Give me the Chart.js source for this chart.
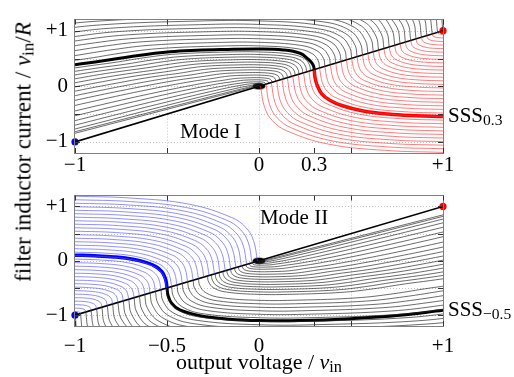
<!DOCTYPE html>
<html><head><meta charset="utf-8">
<script src="https://cdn.jsdelivr.net/npm/chart.js@4.4.1/dist/chart.umd.min.js"></script>
<style>
html,body{margin:0;padding:0;background:#fff;width:514px;height:377px;overflow:hidden;}
#wrap{position:relative;width:514px;height:377px;font-family:"Liberation Serif","Times New Roman",serif;color:#000;}
canvas{position:absolute;left:0;}
.lbl{position:absolute;white-space:nowrap;line-height:1;}
.sub{font-size:0.74em;position:relative;top:0.2em;}
</style></head><body>
<div id="wrap">
<canvas id="cTop" width="514" height="176" style="top:0px"></canvas>
<canvas id="cBot" width="514" height="201" style="top:176px"></canvas>
<div class="lbl" id="yTitle" style="font-size:23px">filter inductor current / <i>v</i><span class="sub">in</span>/<i>R</i></div>
<div class="lbl" id="xTitle" style="font-size:22px">output voltage / <i>v</i><span class="sub">in</span></div>
<div class="lbl" id="modeI" style="font-size:21px">Mode I</div>
<div class="lbl" id="modeII" style="font-size:21px">Mode II</div>
<div class="lbl" id="sssTop" style="font-size:21px">SSS<span class="sub">0.3</span></div>
<div class="lbl" id="sssBot" style="font-size:21px">SSS<span class="sub">−0.5</span></div>
</div>
<script>
// ---------- tick values / labels ----------
const yTickValues = [-1, 0, 1];
const yTickLabels = ['−1', '0', '+1'];
const topXTickValues = [-1, 0, 0.3, 1];
const topXTickLabels = ['−1', '0', '0.3', '+1'];
const botXTickValues = [-1, -0.5, 0, 1];
const botXTickLabels = ['−1', '−0.5', '0', '+1'];
const gridXValues = [-0.5, 0, 0.5];
const gridYValues = [-1, -0.5, 0, 0.5, 1];

// ---------- switching line and equilibrium points ----------
const switchLine = [[-1,-1],[0,0],[1,1]];
const eqRed = [1, 1];
const eqBlue = [-1, -1];
const eqBlack = [0, 0];

// ---------- steady-state (thick) trajectories ----------
const sssTopBlack = [[.300,.300],[.297,.360],[.285,.430],[.268,.486],[.223,.595],[.132,.655],[0,.672],[-.194,.662],[-.339,.648],[-.484,.621],[-.665,.551],[-.846,.459],[-1,.389]];
const sssTopRed = [[.300,.300],[.305,.150],[.315,.030],[.340,-.130],[.385,-.250],[.450,-.345],[.560,-.440],[.700,-.500],[.850,-.530],[1,-.545]];
const sssBotBlue = [[-.5,-.5],[-.504,-.393],[-.511,-.307],[-.529,-.193],[-.561,-.107],[-.607,-.039],[-.686,.029],[-.786,.071],[-.893,.093],[-1,.104]];
const sssBotBlack = [[-.5,-.5],[-.494,-.64],[-.475,-.78],[-.43,-.905],[-.32,-1.01],[-.16,-1.075],[0,-1.1],[.22,-1.1],[.495,-1.065],[.766,-1.003],[1,-.91]];

// ---------- thin trajectories, top panel (Mode I) ----------
const redThin = [
[[.971,.971],[.971,.960],[.973,.953],[.975,.947],[.982,.940],[.991,.937],[1,.936]],
[[.942,.942],[.943,.919],[.945,.905],[.950,.894],[.963,.880],[.982,.873],[1,.871]],
[[.913,.913],[.914,.879],[.918,.858],[.925,.841],[.945,.820],[.973,.810],[1,.807]],
[[.883,.883],[.886,.838],[.891,.810],[.900,.788],[.927,.760],[.963,.747],[1,.743]],
[[.854,.854],[.857,.798],[.864,.763],[.875,.735],[.908,.700],[.954,.683],[1,.678]],
[[.825,.825],[.829,.758],[.836,.715],[.850,.683],[.890,.640],[.945,.620],[1,.614]],
[[.796,.796],[.800,.717],[.809,.668],[.825,.630],[.872,.580],[.936,.557],[1,.549]],
[[.767,.767],[.772,.677],[.782,.620],[.800,.577],[.853,.520],[.927,.493],[1,.485]],
[[.738,.738],[.743,.636],[.754,.573],[.775,.524],[.835,.460],[.918,.430],[1,.421]],
[[.708,.708],[.715,.596],[.727,.525],[.750,.471],[.817,.400],[.908,.367],[1,.356]],
[[.679,.679],[.686,.555],[.700,.478],[.725,.418],[.798,.340],[.899,.303],[1,.292]],
[[.650,.650],[.658,.515],[.673,.430],[.700,.365],[.780,.280],[.890,.240],[1,.228]],
[[.621,.621],[.629,.475],[.645,.383],[.675,.312],[.762,.220],[.881,.177],[1,.163]],
[[.592,.592],[.600,.434],[.618,.335],[.650,.259],[.743,.160],[.872,.113],[1,.099]],
[[.563,.563],[.572,.394],[.591,.288],[.625,.206],[.725,.100],[.863,.050],[1,.034]],
[[.533,.533],[.543,.353],[.563,.240],[.600,.153],[.707,.040],[.853,-.013],[1,-.030]],
[[.504,.504],[.515,.313],[.536,.193],[.575,.100],[.688,-.020],[.844,-.077],[1,-.094]],
[[.475,.475],[.486,.273],[.509,.145],[.550,.048],[.670,-.080],[.835,-.140],[1,-.159]],
[[.446,.446],[.458,.232],[.481,.098],[.525,-.005],[.652,-.140],[.826,-.203],[1,-.223]],
[[.417,.417],[.429,.192],[.454,.050],[.500,-.058],[.633,-.200],[.817,-.267],[1,-.288]],
[[.388,.388],[.401,.151],[.427,.003],[.475,-.111],[.615,-.260],[.808,-.330],[1,-.352]],
[[.358,.358],[.372,.111],[.400,-.045],[.450,-.164],[.597,-.320],[.798,-.393],[1,-.416]],
[[.329,.329],[.344,.070],[.372,-.093],[.425,-.217],[.578,-.380],[.789,-.457],[1,-.481]],
[[.300,.300],[.315,.030],[.345,-.140],[.400,-.270],[.560,-.440],[.780,-.520],[1,-.545]],
[[.271,.271],[.287,-.010],[.318,-.188],[.375,-.323],[.542,-.500],[.771,-.583],[1,-.609]],
[[.242,.242],[.258,-.051],[.290,-.235],[.350,-.376],[.523,-.560],[.762,-.647],[1,-.674]],
[[.213,.213],[.229,-.091],[.263,-.283],[.325,-.429],[.505,-.620],[.753,-.710],[1,-.738]],
[[.183,.183],[.201,-.132],[.236,-.330],[.300,-.482],[.487,-.680],[.743,-.773],[1,-.803]],
[[.154,.154],[.172,-.172],[.209,-.378],[.275,-.535],[.468,-.740],[.734,-.837],[1,-.867]],
[[.125,.125],[.144,-.213],[.181,-.425],[.250,-.588],[.450,-.800],[.725,-.900],[1,-.931]],
[[.096,.096],[.115,-.253],[.154,-.473],[.225,-.640],[.432,-.860],[.716,-.963],[1,-.996]],
[[.067,.067],[.087,-.293],[.127,-.520],[.200,-.693],[.413,-.920],[.707,-1.027],[1,-1.060]],
[[.038,.038],[.058,-.334],[.099,-.568],[.175,-.746],[.395,-.980],[.698,-1.090],[1,-1.124]],
[[.008,.008],[.030,-.374],[.072,-.615],[.150,-.799],[.377,-1.040],[.688,-1.153],[1,-1.189]]
];
const blackTopThin = [
[[.329,.329],[.322,.456],[.289,.588],[.207,.677],[0,.727],[-.212,.724],[-.531,.682],[-.729,.607],[-.926,.503],[-1.097,.427]],
[[.358,.358],[.351,.497],[.315,.640],[.225,.737],[0,.791],[-.230,.788],[-.578,.742],[-.793,.660],[-1.008,.548]],
[[.388,.388],[.379,.537],[.340,.692],[.244,.797],[0,.855],[-.249,.853],[-.626,.803],[-.858,.714],[-1.091,.592]],
[[.417,.417],[.408,.577],[.366,.744],[.262,.857],[0,.920],[-.268,.917],[-.673,.863],[-.923,.768],[-1.173,.637]],
[[.446,.446],[.436,.618],[.392,.796],[.280,.917],[0,.984],[-.287,.981],[-.720,.924],[-.987,.822],[-1.255,.681]],
[[.475,.475],[.465,.658],[.417,.848],[.299,.977],[0,1.048],[-.305,1.045],[-.767,.984],[-1.052,.875]],
[[.504,.504],[.493,.699],[.443,.900],[.317,1.037],[0,1.113],[-.324,1.109],[-.814,1.044],[-1.116,.929]],
[[.533,.533],[.522,.739],[.469,.952],[.335,1.097],[0,1.177],[-.343,1.173],[-.861,1.105],[-1.181,.983]],
[[.563,.563],[.550,.779],[.494,1.004],[.354,1.157],[0,1.242],[-.362,1.238],[-.908,1.165],[-1.246,1.037]],
[[.592,.592],[.579,.820],[.520,1.057],[.372,1.217],[0,1.306],[-.380,1.302],[-.955,1.226],[-1.310,1.090]],
[[.621,.621],[.608,.860],[.545,1.109],[.390,1.277],[0,1.370]],
[[.650,.650],[.636,.901],[.571,1.161],[.409,1.337],[0,1.435]],
[[.679,.679],[.665,.941],[.597,1.213],[.427,1.397]],
[[.708,.708],[.693,.982],[.622,1.265],[.445,1.457]],
[[.738,.738],[.722,1.022],[.648,1.317],[.464,1.517]],
[[.767,.767],[.750,1.062],[.674,1.369]],
[[.796,.796],[.779,1.103],[.699,1.421]],
[[.825,.825],[.807,1.143],[.725,1.473]],
[[.854,.854],[.836,1.184],[.750,1.525]],
[[.883,.883],[.864,1.224],[.776,1.577]],
[[.913,.913],[.893,1.264],[.802,1.629]],
[[.942,.942],[.921,1.305],[.827,1.682]],
[[.971,.971],[.950,1.345],[.853,1.734]],
[[1,1],[.979,1.386],[.879,1.786]],
[[.280,.280],[.274,.388],[.246,.500],[.176,.576],[0,.618],[-.180,.616],[-.452,.580],[-.620,.516],[-.788,.428],[-.933,.363],[-1.120,.272]],
[[.259,.259],[.253,.359],[.228,.463],[.163,.533],[0,.572],[-.167,.570],[-.418,.537],[-.574,.477],[-.729,.396],[-.863,.336],[-1.036,.252]],
[[.238,.238],[.233,.330],[.209,.425],[.150,.490],[0,.525],[-.153,.524],[-.384,.493],[-.527,.439],[-.670,.364],[-.793,.309],[-.952,.231],[-1.190,.092]],
[[.217,.217],[.212,.301],[.191,.388],[.136,.446],[0,.479],[-.140,.477],[-.350,.450],[-.481,.400],[-.611,.332],[-.723,.282],[-.868,.211],[-1.085,.084]],
[[.196,.196],[.192,.272],[.172,.350],[.123,.403],[0,.433],[-.126,.431],[-.316,.406],[-.434,.361],[-.552,.300],[-.653,.254],[-.784,.190],[-.980,.076],[-1.260,-.104]],
[[.175,.175],[.171,.243],[.154,.313],[.110,.360],[0,.386],[-.113,.385],[-.283,.363],[-.388,.323],[-.493,.268],[-.583,.227],[-.700,.170],[-.875,.068],[-1.125,-.093]],
[[.154,.154],[.151,.213],[.135,.275],[.097,.317],[0,.340],[-.099,.339],[-.249,.319],[-.341,.284],[-.433,.235],[-.513,.200],[-.616,.150],[-.770,.059],[-.990,-.081],[-1.320,-.308]],
[[.133,.133],[.130,.184],[.117,.238],[.084,.274],[0,.294],[-.086,.293],[-.215,.276],[-.295,.245],[-.374,.203],[-.443,.173],[-.532,.129],[-.665,.051],[-.855,-.070],[-1.140,-.266]],
[[.112,.112],[.110,.155],[.098,.200],[.070,.230],[0,.247],[-.072,.246],[-.181,.232],[-.248,.206],[-.315,.171],[-.373,.145],[-.448,.109],[-.560,.043],[-.720,-.059],[-.960,-.224],[-1.280,-.461]],
[[.091,.091],[.089,.126],[.080,.163],[.057,.187],[0,.201],[-.059,.200],[-.147,.189],[-.202,.168],[-.256,.139],[-.303,.118],[-.364,.088],[-.455,.035],[-.585,-.048],[-.780,-.182],[-1.040,-.374]],
[[.070,.070],[.069,.097],[.062,.125],[.044,.144],[0,.155],[-.045,.154],[-.113,.145],[-.155,.129],[-.197,.107],[-.233,.091],[-.280,.068],[-.350,.027],[-.450,-.037],[-.600,-.140],[-.800,-.288],[-1.200,-.600]],
[[.053,.053],[.051,.073],[.046,.094],[.033,.108],[0,.116],[-.034,.116],[-.085,.109],[-.116,.097],[-.148,.080],[-.175,.068],[-.210,.051],[-.263,.020],[-.338,-.028],[-.450,-.105],[-.600,-.216],[-.900,-.450],[-1.500,-.938]],
[[.036,.036],[.032,.065],[.023,.075],[0,.080],[-.059,.075],[-.102,.056],[-.146,.035],[-.182,.014],[-.234,-.019],[-.312,-.073],[-.416,-.150],[-.624,-.312],[-1.040,-.650]],
[[.023,.023],[.020,.041],[0,.051],[-.051,.043],[-.092,.022],[-.149,-.012],[-.198,-.046],[-.264,-.095],[-.396,-.198],[-.660,-.413],[-1.320,-.970]],
[[.013,.013],[.011,.023],[0,.028],[-.028,.023],[-.050,.012],[-.081,-.007],[-.108,-.025],[-.144,-.052],[-.216,-.108],[-.360,-.225],[-.720,-.529],[-1.800,-1.454]],
[[.006,.006],[0,.012],[-.022,.005],[-.048,-.011],[-.064,-.023],[-.096,-.048],[-.160,-.100],[-.320,-.235],[-.800,-.646],[-2.400,-2.024]],
[[.002,.002],[0,.005],[-.018,-.004],[-.036,-.018],[-.060,-.038],[-.120,-.088],[-.300,-.242],[-.900,-.759],[-3.000,-2.571]]
];

// ---------- thin trajectories, bottom panel (Mode II) ----------
const blueThin = [
[[-.971,-.971],[-.971,-.960],[-.973,-.953],[-.975,-.947],[-.982,-.940],[-.991,-.937],[-1,-.936]],
[[-.942,-.942],[-.943,-.919],[-.945,-.905],[-.950,-.894],[-.963,-.880],[-.982,-.873],[-1,-.871]],
[[-.913,-.913],[-.914,-.879],[-.918,-.858],[-.925,-.841],[-.945,-.820],[-.973,-.810],[-1,-.807]],
[[-.883,-.883],[-.886,-.838],[-.891,-.810],[-.900,-.788],[-.927,-.760],[-.963,-.747],[-1,-.743]],
[[-.854,-.854],[-.857,-.798],[-.864,-.763],[-.875,-.735],[-.908,-.700],[-.954,-.683],[-1,-.678]],
[[-.825,-.825],[-.829,-.758],[-.836,-.715],[-.850,-.683],[-.890,-.640],[-.945,-.620],[-1,-.614]],
[[-.796,-.796],[-.800,-.717],[-.809,-.668],[-.825,-.630],[-.872,-.580],[-.936,-.557],[-1,-.549]],
[[-.767,-.767],[-.772,-.677],[-.782,-.620],[-.800,-.577],[-.853,-.520],[-.927,-.493],[-1,-.485]],
[[-.738,-.738],[-.743,-.636],[-.754,-.573],[-.775,-.524],[-.835,-.460],[-.918,-.430],[-1,-.421]],
[[-.708,-.708],[-.715,-.596],[-.727,-.525],[-.750,-.471],[-.817,-.400],[-.908,-.367],[-1,-.356]],
[[-.679,-.679],[-.686,-.555],[-.700,-.478],[-.725,-.418],[-.798,-.340],[-.899,-.303],[-1,-.292]],
[[-.650,-.650],[-.658,-.515],[-.673,-.430],[-.700,-.365],[-.780,-.280],[-.890,-.240],[-1,-.228]],
[[-.621,-.621],[-.629,-.475],[-.645,-.383],[-.675,-.312],[-.762,-.220],[-.881,-.177],[-1,-.163]],
[[-.592,-.592],[-.600,-.434],[-.618,-.335],[-.650,-.259],[-.743,-.160],[-.872,-.113],[-1,-.099]],
[[-.563,-.563],[-.572,-.394],[-.591,-.288],[-.625,-.206],[-.725,-.100],[-.863,-.050],[-1,-.034]],
[[-.533,-.533],[-.543,-.353],[-.563,-.240],[-.600,-.153],[-.707,-.040],[-.853,.013],[-1,.030]],
[[-.504,-.504],[-.515,-.313],[-.536,-.193],[-.575,-.100],[-.688,.020],[-.844,.077],[-1,.094]],
[[-.475,-.475],[-.486,-.273],[-.509,-.145],[-.550,-.048],[-.670,.080],[-.835,.140],[-1,.159]],
[[-.446,-.446],[-.458,-.232],[-.481,-.098],[-.525,.005],[-.652,.140],[-.826,.203],[-1,.223]],
[[-.417,-.417],[-.429,-.192],[-.454,-.050],[-.500,.058],[-.633,.200],[-.817,.267],[-1,.288]],
[[-.388,-.388],[-.401,-.151],[-.427,-.003],[-.475,.111],[-.615,.260],[-.808,.330],[-1,.352]],
[[-.358,-.358],[-.372,-.111],[-.400,.045],[-.450,.164],[-.597,.320],[-.798,.393],[-1,.416]],
[[-.329,-.329],[-.344,-.070],[-.372,.093],[-.425,.217],[-.578,.380],[-.789,.457],[-1,.481]],
[[-.300,-.300],[-.315,-.030],[-.345,.140],[-.400,.270],[-.560,.440],[-.780,.520],[-1,.545]],
[[-.271,-.271],[-.287,.010],[-.318,.188],[-.375,.323],[-.542,.500],[-.771,.583],[-1,.609]],
[[-.242,-.242],[-.258,.051],[-.290,.235],[-.350,.376],[-.523,.560],[-.762,.647],[-1,.674]],
[[-.213,-.213],[-.229,.091],[-.263,.283],[-.325,.429],[-.505,.620],[-.753,.710],[-1,.738]],
[[-.183,-.183],[-.201,.132],[-.236,.330],[-.300,.482],[-.487,.680],[-.743,.773],[-1,.803]],
[[-.154,-.154],[-.172,.172],[-.209,.378],[-.275,.535],[-.468,.740],[-.734,.837],[-1,.867]],
[[-.125,-.125],[-.144,.213],[-.181,.425],[-.250,.588],[-.450,.800],[-.725,.900],[-1,.931]],
[[-.096,-.096],[-.115,.253],[-.154,.473],[-.225,.640],[-.432,.860],[-.716,.963],[-1,.996]],
[[-.067,-.067],[-.087,.293],[-.127,.520],[-.200,.693],[-.413,.920],[-.707,1.027],[-1,1.060]],
[[-.038,-.038],[-.058,.334],[-.099,.568],[-.175,.746],[-.395,.980],[-.698,1.090],[-1,1.124]],
[[-.008,-.008],[-.030,.374],[-.072,.615],[-.150,.799],[-.377,1.040],[-.688,1.153],[-1,1.189]]
];
const blackBotThin = [
[[-.329,-.329],[-.322,-.456],[-.289,-.588],[-.207,-.677],[0,-.727],[.212,-.724],[.531,-.682],[.729,-.607],[.926,-.503],[1.097,-.427]],
[[-.358,-.358],[-.351,-.497],[-.315,-.640],[-.225,-.737],[0,-.791],[.230,-.788],[.578,-.742],[.793,-.660],[1.008,-.548]],
[[-.388,-.388],[-.379,-.537],[-.340,-.692],[-.244,-.797],[0,-.855],[.249,-.853],[.626,-.803],[.858,-.714],[1.091,-.592]],
[[-.417,-.417],[-.408,-.577],[-.366,-.744],[-.262,-.857],[0,-.920],[.268,-.917],[.673,-.863],[.923,-.768],[1.173,-.637]],
[[-.446,-.446],[-.436,-.618],[-.392,-.796],[-.280,-.917],[0,-.984],[.287,-.981],[.720,-.924],[.987,-.822],[1.255,-.681]],
[[-.475,-.475],[-.465,-.658],[-.417,-.848],[-.299,-.977],[0,-1.048],[.305,-1.045],[.767,-.984],[1.052,-.875]],
[[-.504,-.504],[-.493,-.699],[-.443,-.900],[-.317,-1.037],[0,-1.113],[.324,-1.109],[.814,-1.044],[1.116,-.929]],
[[-.533,-.533],[-.522,-.739],[-.469,-.952],[-.335,-1.097],[0,-1.177],[.343,-1.173],[.861,-1.105],[1.181,-.983]],
[[-.563,-.563],[-.550,-.779],[-.494,-1.004],[-.354,-1.157],[0,-1.242],[.362,-1.238],[.908,-1.165],[1.246,-1.037]],
[[-.592,-.592],[-.579,-.820],[-.520,-1.057],[-.372,-1.217],[0,-1.306],[.380,-1.302],[.955,-1.226],[1.310,-1.090]],
[[-.621,-.621],[-.608,-.860],[-.545,-1.109],[-.390,-1.277],[0,-1.370]],
[[-.650,-.650],[-.636,-.901],[-.571,-1.161],[-.409,-1.337],[0,-1.435]],
[[-.679,-.679],[-.665,-.941],[-.597,-1.213],[-.427,-1.397]],
[[-.708,-.708],[-.693,-.982],[-.622,-1.265],[-.445,-1.457]],
[[-.738,-.738],[-.722,-1.022],[-.648,-1.317],[-.464,-1.517]],
[[-.767,-.767],[-.750,-1.062],[-.674,-1.369]],
[[-.796,-.796],[-.779,-1.103],[-.699,-1.421]],
[[-.825,-.825],[-.807,-1.143],[-.725,-1.473]],
[[-.854,-.854],[-.836,-1.184],[-.750,-1.525]],
[[-.883,-.883],[-.864,-1.224],[-.776,-1.577]],
[[-.913,-.913],[-.893,-1.264],[-.802,-1.629]],
[[-.942,-.942],[-.921,-1.305],[-.827,-1.682]],
[[-.971,-.971],[-.950,-1.345],[-.853,-1.734]],
[[-1,-1],[-.979,-1.386],[-.879,-1.786]],
[[-.280,-.280],[-.274,-.388],[-.246,-.500],[-.176,-.576],[0,-.618],[.180,-.616],[.452,-.580],[.620,-.516],[.788,-.428],[.933,-.363],[1.120,-.272]],
[[-.259,-.259],[-.253,-.359],[-.228,-.463],[-.163,-.533],[0,-.572],[.167,-.570],[.418,-.537],[.574,-.477],[.729,-.396],[.863,-.336],[1.036,-.252]],
[[-.238,-.238],[-.233,-.330],[-.209,-.425],[-.150,-.490],[0,-.525],[.153,-.524],[.384,-.493],[.527,-.439],[.670,-.364],[.793,-.309],[.952,-.231],[1.190,-.092]],
[[-.217,-.217],[-.212,-.301],[-.191,-.388],[-.136,-.446],[0,-.479],[.140,-.477],[.350,-.450],[.481,-.400],[.611,-.332],[.723,-.282],[.868,-.211],[1.085,-.084]],
[[-.196,-.196],[-.192,-.272],[-.172,-.350],[-.123,-.403],[0,-.433],[.126,-.431],[.316,-.406],[.434,-.361],[.552,-.300],[.653,-.254],[.784,-.190],[.980,-.076],[1.260,.104]],
[[-.175,-.175],[-.171,-.243],[-.154,-.313],[-.110,-.360],[0,-.386],[.113,-.385],[.283,-.363],[.388,-.323],[.493,-.268],[.583,-.227],[.700,-.170],[.875,-.068],[1.125,.093]],
[[-.154,-.154],[-.151,-.213],[-.135,-.275],[-.097,-.317],[0,-.340],[.099,-.339],[.249,-.319],[.341,-.284],[.433,-.235],[.513,-.200],[.616,-.150],[.770,-.059],[.990,.081],[1.320,.308]],
[[-.133,-.133],[-.130,-.184],[-.117,-.238],[-.084,-.274],[0,-.294],[.086,-.293],[.215,-.276],[.295,-.245],[.374,-.203],[.443,-.173],[.532,-.129],[.665,-.051],[.855,.070],[1.140,.266]],
[[-.112,-.112],[-.110,-.155],[-.098,-.200],[-.070,-.230],[0,-.247],[.072,-.246],[.181,-.232],[.248,-.206],[.315,-.171],[.373,-.145],[.448,-.109],[.560,-.043],[.720,.059],[.960,.224],[1.280,.461]],
[[-.091,-.091],[-.089,-.126],[-.080,-.163],[-.057,-.187],[0,-.201],[.059,-.200],[.147,-.189],[.202,-.168],[.256,-.139],[.303,-.118],[.364,-.088],[.455,-.035],[.585,.048],[.780,.182],[1.040,.374]],
[[-.070,-.070],[-.069,-.097],[-.062,-.125],[-.044,-.144],[0,-.155],[.045,-.154],[.113,-.145],[.155,-.129],[.197,-.107],[.233,-.091],[.280,-.068],[.350,-.027],[.450,.037],[.600,.140],[.800,.288],[1.200,.600]],
[[-.053,-.053],[-.051,-.073],[-.046,-.094],[-.033,-.108],[0,-.116],[.034,-.116],[.085,-.109],[.116,-.097],[.148,-.080],[.175,-.068],[.210,-.051],[.263,-.020],[.338,.028],[.450,.105],[.600,.216],[.900,.450],[1.500,.938]],
[[-.036,-.036],[-.032,-.065],[-.023,-.075],[0,-.080],[.059,-.075],[.102,-.056],[.146,-.035],[.182,-.014],[.234,.019],[.312,.073],[.416,.150],[.624,.312],[1.040,.650]],
[[-.023,-.023],[-.020,-.041],[0,-.051],[.051,-.043],[.092,-.022],[.149,.012],[.198,.046],[.264,.095],[.396,.198],[.660,.413],[1.320,.970]],
[[-.013,-.013],[-.011,-.023],[0,-.028],[.028,-.023],[.050,-.012],[.081,.007],[.108,.025],[.144,.052],[.216,.108],[.360,.225],[.720,.529],[1.800,1.454]],
[[-.006,-.006],[0,-.012],[.022,-.005],[.048,.011],[.064,.023],[.096,.048],[.160,.100],[.320,.235],[.800,.646],[2.400,2.024]],
[[-.002,-.002],[0,-.005],[.018,.004],[.036,.018],[.060,.038],[.120,.088],[.300,.242],[.900,.759],[3.000,2.571]]
];

// ---------- styling ----------
const FONT = '"Liberation Serif","Times New Roman",serif';
const C_THIN_BLACK = 'rgba(35,35,35,0.85)';
const C_THIN_RED = 'rgba(255,50,50,0.8)';
const C_THIN_BLUE = 'rgba(80,80,255,0.8)';

// elongated marker used for the origin equilibrium
const ovalMarker = document.createElement('canvas');
ovalMarker.width = 14; ovalMarker.height = 8;
(function(){ const c = ovalMarker.getContext('2d'); c.fillStyle = '#000';
  c.beginPath(); c.ellipse(7, 4, 6.5, 3.2, 0, 0, 2 * Math.PI); c.fill(); })();

function curve(pts, color, width, tension) {
  return { data: pts.map(p => ({x: p[0], y: p[1]})), showLine: true, borderColor: color,
           borderWidth: width, pointRadius: 0, pointHoverRadius: 0, tension: tension, fill: false };
}
function dot(p, color, r, style) {
  return { data: [{x: p[0], y: p[1]}], showLine: false, pointRadius: r, pointHoverRadius: r,
           pointStyle: style || 'circle',
           pointBackgroundColor: color, pointBorderColor: color, pointBorderWidth: 0, clip: false };
}

const framePlugin = {
  id: 'frame',
  beforeDatasetsDraw(chart, args, o) {
    const {ctx, chartArea: a, scales: {x, y}} = chart;
    ctx.save();
    ctx.strokeStyle = '#c4c4c4'; ctx.lineWidth = 1; ctx.setLineDash([1, 2]);
    o.gridX.forEach(v => { const p = Math.round(x.getPixelForValue(v)) + 0.5;
      ctx.beginPath(); ctx.moveTo(p, a.top); ctx.lineTo(p, a.bottom); ctx.stroke(); });
    o.gridY.forEach(v => { const p = Math.round(y.getPixelForValue(v)) + 0.5;
      ctx.beginPath(); ctx.moveTo(a.left, p); ctx.lineTo(a.right, p); ctx.stroke(); });
    ctx.restore();
  },
  afterDatasetsDraw(chart, args, o) {
    const {ctx, chartArea: a, scales: {x, y}} = chart;
    ctx.save();
    ctx.strokeStyle = '#808080'; ctx.lineWidth = 1;
    ctx.strokeRect(Math.round(a.left) - 0.5, Math.round(a.top) - 0.5,
                   Math.round(a.right - a.left) + 1, Math.round(a.bottom - a.top) + 1);
    ctx.strokeStyle = '#333';
    const L = 5;
    o.tickX.forEach(v => { const p = Math.round(x.getPixelForValue(v)) + 0.5;
      ctx.beginPath(); ctx.moveTo(p, a.bottom); ctx.lineTo(p, a.bottom - L);
      ctx.moveTo(p, a.top); ctx.lineTo(p, a.top + L); ctx.stroke(); });
    o.tickY.forEach(v => { const p = Math.round(y.getPixelForValue(v)) + 0.5;
      ctx.beginPath(); ctx.moveTo(a.left, p); ctx.lineTo(a.left + L, p);
      ctx.moveTo(a.right, p); ctx.lineTo(a.right - L, p); ctx.stroke(); });
    ctx.restore();
  }
};

function makeChart(id, datasets, xVals, xLabels, padTop, xAxisH, xPad) {
  return new Chart(document.getElementById(id), {
    type: 'scatter',
    data: { datasets },
    options: {
      responsive: false, animation: false, events: [],
      layout: { padding: { left: 0, right: 71, top: padTop, bottom: 0 } },
      elements: { line: { capBezierPoints: false } },
      plugins: { legend: { display: false }, tooltip: { enabled: false },
        frame: { gridX: gridXValues, gridY: gridYValues,
                 tickX: [-1, -0.5, 0, 0.3, 0.5, 1], tickY: [-1, -0.5, 0, 0.5, 1] } },
      scales: {
        x: { type: 'linear', min: -1, max: 1,
             afterBuildTicks: ax => { ax.ticks = xVals.map(v => ({value: v})); },
             afterFit: s => { s.height = xAxisH; },
             ticks: { autoSkip: false, maxRotation: 0, padding: xPad, color: '#000',
                      font: { family: FONT, size: 21 },
                      callback: v => xLabels[xVals.indexOf(v)] },
             grid: { display: false, drawTicks: false }, border: { display: false } },
        y: { type: 'linear', min: -1.2, max: 1.2,
             afterBuildTicks: ax => { ax.ticks = yTickValues.map(v => ({value: v})); },
             afterFit: s => { s.width = 75; },
             ticks: { padding: 7, color: '#000', font: { family: FONT, size: 21 },
                      callback: v => yTickLabels[yTickValues.indexOf(v)] },
             grid: { display: false, drawTicks: false }, border: { display: false } }
      }
    },
    plugins: [framePlugin]
  });
}

const topSets = [
  ...blackTopThin.map(c => curve(c, C_THIN_BLACK, 0.8, 0.4)),
  ...redThin.map(c => curve(c, C_THIN_RED, 0.8, 0.4)),
  curve(switchLine, '#000', 1.7, 0),
  curve(sssTopBlack, '#000', 3, 0.4),
  curve(sssTopRed, '#ff0000', 3.5, 0.4),
  dot(eqBlack, '#000', 4, ovalMarker), dot(eqRed, '#ff0000', 3.6), dot(eqBlue, '#0000ff', 3.6)
];
const botSets = [
  ...blackBotThin.map(c => curve(c, C_THIN_BLACK, 0.8, 0.4)),
  ...blueThin.map(c => curve(c, C_THIN_BLUE, 0.8, 0.4)),
  curve(switchLine, '#000', 1.7, 0),
  curve(sssBotBlack, '#000', 3, 0.4),
  curve(sssBotBlue, '#0000ff', 3.5, 0.4),
  dot(eqBlack, '#000', 4, ovalMarker), dot(eqRed, '#ff0000', 3.6), dot(eqBlue, '#0000ff', 3.6)
];

const chTop = makeChart('cTop', topSets, topXTickValues, topXTickLabels, 5, 23, 0);
const chBot = makeChart('cBot', botSets, botXTickValues, botXTickLabels, 2, 51, 8);

// ---------- annotation placement (from the chart scales) ----------
const BOT_OFF = 176;
function put(id, left, top, tf) { const e = document.getElementById(id);
  e.style.left = left + 'px'; e.style.top = top + 'px'; e.style.transform = tf; }
const aT = chTop.chartArea, aB = chBot.chartArea;
put('sssTop', aT.right + 5, chTop.scales.y.getPixelForValue(sssTopRed[sssTopRed.length-1][1]) - 2, 'translateY(-50%)');
put('sssBot', aB.right + 5, BOT_OFF + chBot.scales.y.getPixelForValue(sssBotBlack[sssBotBlack.length-1][1]) - 1.5, 'translateY(-50%)');
put('modeI', chTop.scales.x.getPixelForValue(-0.43), chTop.scales.y.getPixelForValue(-0.80), 'translateY(-50%)');
put('modeII', chBot.scales.x.getPixelForValue(0.005), BOT_OFF + chBot.scales.y.getPixelForValue(0.81), 'translateY(-50%)');
put('xTitle', (aB.left + aB.right) / 2, 362, 'translate(-50%,-50%)');
put('yTitle', 23, 152, 'translate(-50%,-50%) rotate(-90deg)');
</script>
</body></html>
